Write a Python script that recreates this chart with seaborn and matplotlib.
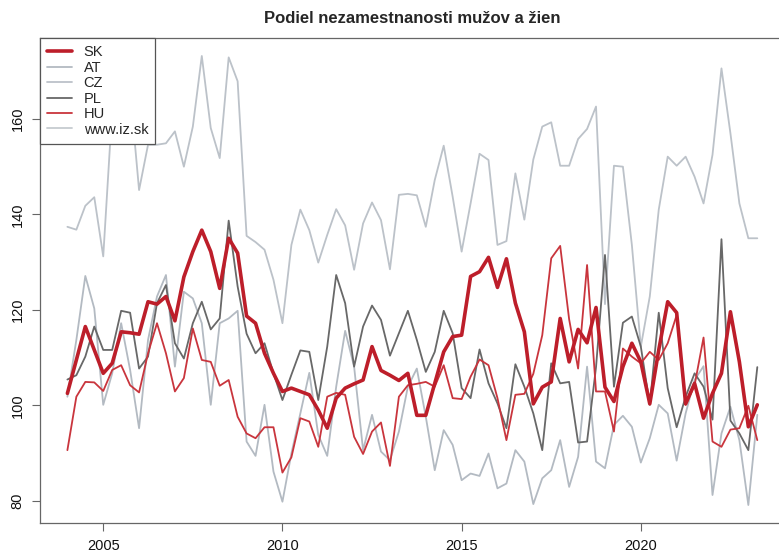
import numpy as np
import pandas as pd
import matplotlib
matplotlib.use("Agg")
import matplotlib.pyplot as plt
import seaborn as sns
from matplotlib.lines import Line2D

# kvartaly 2004Q1 - 2023Q2
quarters = pd.period_range("2004Q1", "2023Q2", freq="Q")
t = np.asarray(quarters.year + (quarters.quarter - 1) / 4, dtype=float)

sk = [102.5, 109.5, 116.5, 111.6, 106.7, 108.8, 115.4, 115.2, 114.9, 121.7,
      121.2, 122.8, 117.7, 126.9, 132.2, 136.7, 132.2, 124.5, 135.0, 131.9,
      118.7, 117.2, 110.9, 106.7, 102.9, 103.6, 102.9, 102.2, 99.0, 95.2,
      101.5, 103.6, 104.5, 105.3, 112.3, 107.3, 106.3, 105.2, 106.7, 97.9,
      97.9, 104.6, 111.2, 114.4, 114.7, 127.0, 128.0, 131.0, 124.7, 130.7,
      121.4, 115.4, 100.3, 103.8, 104.9, 118.2, 109.1, 115.9, 113.1, 120.5,
      103.8, 100.8, 108.1, 113.0, 109.1, 100.3, 111.6, 121.7, 119.4, 100.3,
      104.6, 97.3, 102.5, 106.7, 119.6, 109.1, 95.5, 100.1]

at = [101.8, 113.7, 127.1, 120.3, 100.1, 106.7, 117.2, 107.4, 95.2, 113.7,
      122.8, 127.3, 108.1, 123.8, 122.4, 117.2, 100.1, 117.2, 118.2, 119.8,
      92.4, 89.4, 100.1, 86.1, 79.8, 89.9, 98.3, 106.8, 93.8, 89.4,
      103.9, 115.6, 108.1, 90.6, 98.0, 90.3, 88.5, 94.5, 103.9, 107.7,
      97.6, 86.4, 94.8, 91.7, 84.3, 85.7, 85.2, 89.9, 82.6, 83.6,
      90.6, 88.2, 79.3, 84.7, 86.4, 92.7, 82.9, 89.2, 108.1, 88.2,
      86.8, 95.9, 97.8, 95.5, 88.0, 93.1, 100.1, 98.3, 88.4, 98.3,
      105.3, 108.2, 81.2, 94.1, 99.7, 92.7, 79.1, 98.0]

cz = [137.4, 136.8, 141.8, 143.6, 131.2, 162.0, 158.0, 166.0, 145.1, 154.6,
      154.6, 154.9, 157.4, 150.0, 158.4, 173.2, 158.1, 151.8, 172.9, 167.9,
      135.5, 134.2, 132.6, 126.3, 117.2, 133.6, 141.0, 136.7, 129.9, 135.7,
      141.1, 137.7, 128.4, 138.1, 142.5, 138.8, 128.5, 144.1, 144.3, 144.0,
      137.4, 147.2, 154.4, 143.7, 132.2, 142.3, 152.7, 151.4, 133.6, 134.4,
      148.6, 138.9, 151.5, 158.4, 159.3, 150.2, 150.2, 155.8, 157.9, 162.6,
      121.2, 150.2, 150.0, 133.6, 112.3, 122.8, 141.0, 152.1, 150.2, 152.1,
      147.9, 142.3, 152.5, 170.6, 157.0, 142.3, 135.0, 135.0]

pl = [105.4, 106.3, 110.2, 116.5, 111.6, 111.6, 119.8, 119.4, 107.7, 110.2,
      121.4, 125.2, 113.0, 109.8, 117.2, 121.7, 115.9, 118.2, 138.7, 124.9,
      115.0, 110.9, 113.0, 106.7, 101.1, 106.4, 111.5, 111.2, 101.1, 112.3,
      127.3, 121.4, 108.1, 116.5, 120.9, 117.9, 110.4, 115.1, 119.8, 113.7,
      107.0, 111.2, 119.8, 115.1, 103.6, 101.5, 111.7, 104.6, 100.4, 95.2,
      108.6, 103.9, 98.3, 90.6, 108.8, 104.6, 104.9, 92.2, 92.4, 108.0,
      131.5, 103.9, 117.3, 118.6, 112.3, 100.1, 119.4, 103.6, 95.4, 101.8,
      106.7, 103.9, 97.0, 134.8, 96.8, 94.1, 90.6, 108.0]

hu = [90.6, 101.8, 104.9, 104.8, 103.0, 107.4, 108.4, 104.2, 102.7, 110.9,
      117.2, 110.9, 102.9, 105.7, 116.1, 109.5, 109.1, 104.1, 105.3, 97.6,
      94.1, 93.1, 95.4, 95.4, 85.9, 89.1, 97.3, 96.6, 91.3, 101.8,
      102.6, 102.2, 93.4, 89.8, 94.5, 96.4, 87.3, 101.8, 104.2, 104.5,
      104.9, 103.9, 108.4, 101.5, 101.3, 106.0, 109.6, 108.4, 101.5, 92.7,
      102.2, 102.4, 106.6, 114.7, 130.8, 133.4, 118.0, 107.7, 129.4, 102.9,
      102.9, 94.5, 111.9, 110.2, 108.8, 111.2, 109.5, 113.0, 118.9, 100.1,
      104.2, 114.2, 92.4, 91.3, 94.9, 95.2, 99.9, 92.7]

farby = {"SK": "#bd1e2a", "AT": "#b3bac2", "CZ": "#bcc2c9",
         "PL": "#686868", "HU": "#c9353d", "www.iz.sk": "#c6cbd0"}
hrubky = {"SK": 2.6, "AT": 1.3, "CZ": 1.3, "PL": 1.3, "HU": 1.3, "www.iz.sk": 1.3}

sns.set_style("ticks")
plt.rcParams['font.family'] = ['Liberation Sans', 'DejaVu Sans']

fig = plt.figure(figsize=(7.79, 5.54), dpi=100)
ax = fig.add_axes([39.8 / 779, 31 / 554, (784.9 - 39.8) / 779, 485 / 554])

# poradie kreslenia: sive najprv, SK navrch
for name, vals in [("AT", at), ("CZ", cz), ("PL", pl), ("HU", hu), ("SK", sk)]:
    sns.lineplot(x=t, y=vals, ax=ax, color=farby[name], linewidth=hrubky[name],
                 legend=False)

span_x = t[-1] - t[0]
ax.set_xlim(t[0] - 0.04 * span_x, t[-1] + 0.04 * span_x)
vmin = min(min(s) for s in [sk, at, cz, pl, hu])
vmax = max(max(s) for s in [sk, at, cz, pl, hu])
span_y = vmax - vmin
ax.set_ylim(vmin - 0.04 * span_y, vmax + 0.04 * span_y)

ax.set_xticks([2005, 2010, 2015, 2020])
ax.set_yticks([80, 100, 120, 140, 160])
ax.set_xlabel("")
ax.set_ylabel("")
ax.tick_params(axis="both", labelsize=10.5, length=6, width=0.8,
               color="#666666", labelcolor="#111111", pad=5)
ax.tick_params(axis="x", pad=5.5)
ax.tick_params(axis="y", labelrotation=90)
for lab in ax.get_yticklabels():
    lab.set_va("center")
for sp in ax.spines.values():
    sp.set_color("#666666")
    sp.set_linewidth(0.9)

ax.set_title("Podiel nezamestnanosti mužov a žien", fontsize=12,
             fontweight="bold", pad=11)

labels = ["SK", "AT", "CZ", "PL", "HU", "www.iz.sk"]
handles = [Line2D([], [], color=farby[n], linewidth=hrubky[n]) for n in labels]
leg = ax.legend(handles, labels, loc="upper left", bbox_to_anchor=(0, 1),
                borderaxespad=0, frameon=True, fancybox=False, framealpha=1,
                edgecolor="#555555", fontsize=10.5, handlelength=1.7,
                handletextpad=0.8, labelspacing=0.1, borderpad=0.5)
leg.get_frame().set_linewidth(0.9)
leg.set_zorder(5)

fig.savefig("out.png", dpi=100)
